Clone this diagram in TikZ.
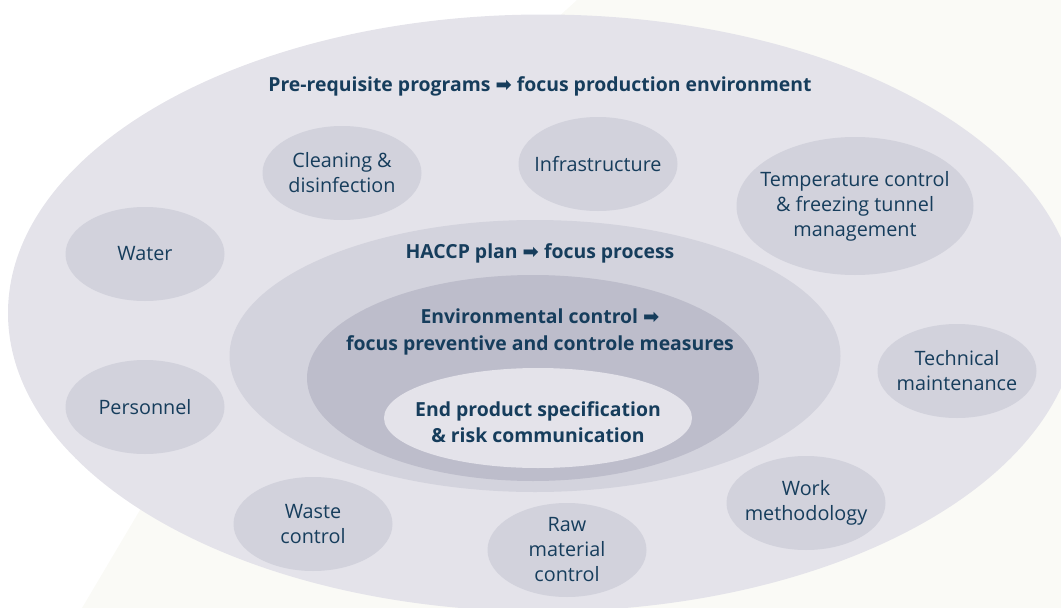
\documentclass[tikz,border=0pt]{standalone}
\usepackage{fontspec}
\setmainfont{Open Sans}
\newfontfamily\symfont{DejaVu Sans}
\usepackage{tikz}
\usetikzlibrary{shapes.geometric}
\definecolor{ink}{RGB}{22,61,92}
\definecolor{cream}{RGB}{250,250,246}
\definecolor{outerfill}{RGB}{228,227,234}
\definecolor{spotfill}{RGB}{210,210,220}
\definecolor{haccpfill}{RGB}{211,211,221}
\definecolor{envfill}{RGB}{189,189,203}
\newcommand{\goes}{{\symfont\char"27A1}}

\begin{document}
\begin{tikzpicture}[x=1pt,y=-1pt]
\tikzstyle{spot}=[ellipse,fill=spotfill,inner sep=-40pt,minimum width=159pt,minimum height=94pt,align=center,text=ink,font=\fontsize{19.8}{25}\selectfont]
\tikzstyle{ring}=[ellipse,inner sep=0pt]
\tikzstyle{head}=[text=ink,align=center,font=\fontsize{19.4}{26.5}\selectfont\bfseries]
\useasboundingbox (0,0) rectangle (1061,608);
\fill[cream] (577,0) -- (1061,0) -- (1061,608) -- (82,608) -- (140,510) -- (289,262) -- cycle;
% nested programs
\node[ring,fill=outerfill,minimum width=1070pt,minimum height=597pt] (prp) at (543,313) {};
\node[ring,fill=haccpfill,minimum width=611pt,minimum height=272pt] (haccp) at (535,356) {};
\node[ring,fill=envfill,minimum width=452pt,minimum height=206pt] (env) at (533,378) {};
\node[ring,fill=outerfill,minimum width=308pt,minimum height=100pt] (end) at (538,418) {};
\node[head] (prptitle) at (540,86) {Pre-requisite programs \goes{} focus production environment};
\node[head] (haccptitle) at (540,253) {HACCP plan \goes{} focus process};
\node[head] (envtitle) at (540,332) {Environmental control \goes{}\\focus preventive and controle measures};
\node[head] (endtitle) at (538,422) {End product specification\\\& risk communication};
% pre-requisites
\node[spot] (clean) at (342,173) {Cleaning \&\\disinfection};
\node[spot] (infra) at (598,164) {Infrastructure};
\node[spot,minimum width=237pt,minimum height=138pt] (temp) at (855,206) {Temperature control\\\& freezing tunnel\\management};
\node[spot] (water) at (145,254) {Water};
\node[spot] (staff) at (145,407) {Personnel};
\node[spot] (tech) at (957,371) {Technical\\maintenance};
\node[spot] (work) at (806,503) {Work\\methodology};
\node[spot] (waste) at (313,524) {Waste\\control};
\node[spot] (raw) at (567,550) {Raw\\material\\control};
\end{tikzpicture}
\end{document}
